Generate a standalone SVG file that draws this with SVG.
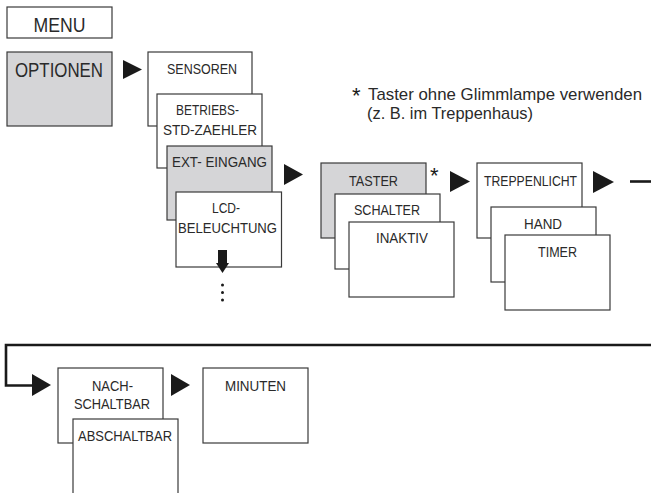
<svg xmlns="http://www.w3.org/2000/svg" width="651" height="493" viewBox="0 0 651 493">
<style>
.box{fill:#fff;stroke:#3a3a3a;stroke-width:1.2}
.grey{fill:#d5d5d7}
.t{font-family:"Liberation Sans",Arial,sans-serif;font-size:15.5px;fill:#2a2a2a;text-anchor:middle}
.big{font-size:21px}
.note{font-family:"Liberation Sans",Arial,sans-serif;font-size:17px;fill:#2a2a2a}
.star{font-family:"Liberation Sans",Arial,sans-serif;font-size:22px;fill:#1a1a1a}
.arr{fill:#1a1a1a}
.ln{fill:none;stroke:#1a1a1a;stroke-width:2.6}
</style>
<rect width="651" height="493" fill="#fff"/>
<g id="menu"><rect class="box" x="7" y="7" width="105" height="31"/><text class="t big" x="59.5" y="32" textLength="52" lengthAdjust="spacingAndGlyphs">MENU</text></g>
<g id="optionen"><rect class="box grey" x="7" y="52" width="105" height="74"/><text class="t big" x="59" y="77" textLength="88" lengthAdjust="spacingAndGlyphs">OPTIONEN</text></g>
<g id="sensoren"><rect class="box" x="148" y="52" width="104" height="74"/><text class="t" x="202" y="73.5" textLength="70" lengthAdjust="spacingAndGlyphs">SENSOREN</text></g>
<g id="betriebs"><rect class="box" x="157" y="94" width="105" height="74"/><text class="t" x="207.5" y="115" textLength="63" lengthAdjust="spacingAndGlyphs">BETRIEBS-</text><text class="t" x="210" y="135" textLength="94" lengthAdjust="spacingAndGlyphs">STD-ZAEHLER</text></g>
<g id="ext"><rect class="box grey" x="167" y="146" width="105" height="74"/><text class="t" x="219.5" y="167" textLength="95" lengthAdjust="spacingAndGlyphs">EXT- EINGANG</text></g>
<g id="lcd"><rect class="box" x="176" y="192" width="105.5" height="75"/><text class="t" x="226" y="213" textLength="28" lengthAdjust="spacingAndGlyphs">LCD-</text><text class="t" x="227.5" y="233" textLength="99" lengthAdjust="spacingAndGlyphs">BELEUCHTUNG</text>
<rect class="arr" x="218" y="250" width="9" height="14"/><polygon class="arr" points="216,263 229,263 222.5,273"/>
<circle class="arr" cx="222.5" cy="285" r="1.5"/><circle class="arr" cx="222.5" cy="292.5" r="1.5"/><circle class="arr" cx="222.5" cy="300" r="1.5"/></g>
<g id="taster"><rect class="box grey" x="321" y="163" width="105" height="75"/><text class="t" x="373.5" y="186" textLength="49" lengthAdjust="spacingAndGlyphs">TASTER</text></g>
<g id="schalter"><rect class="box" x="335" y="194" width="105" height="75"/><text class="t" x="387" y="215" textLength="66" lengthAdjust="spacingAndGlyphs">SCHALTER</text></g>
<g id="inaktiv"><rect class="box" x="349" y="222" width="105" height="75"/><text class="t" x="402" y="243" textLength="52" lengthAdjust="spacingAndGlyphs">INAKTIV</text></g>
<g id="treppenlicht"><rect class="box" x="477" y="163" width="105" height="75"/><text class="t" x="530.5" y="186" textLength="93" lengthAdjust="spacingAndGlyphs">TREPPENLICHT</text></g>
<g id="hand"><rect class="box" x="491" y="207" width="105" height="75"/><text class="t" x="543" y="229" textLength="38" lengthAdjust="spacingAndGlyphs">HAND</text></g>
<g id="timer"><rect class="box" x="505" y="235" width="105" height="75"/><text class="t" x="557.5" y="257" textLength="39" lengthAdjust="spacingAndGlyphs">TIMER</text></g>
<g id="nachschaltbar"><rect class="box" x="58" y="368" width="105" height="75"/><text class="t" x="112.5" y="391" textLength="41" lengthAdjust="spacingAndGlyphs">NACH-</text><text class="t" x="112" y="409" textLength="76" lengthAdjust="spacingAndGlyphs">SCHALTBAR</text></g>
<g id="abschaltbar"><rect class="box" x="73" y="419" width="105" height="80"/><text class="t" x="125" y="441" textLength="94" lengthAdjust="spacingAndGlyphs">ABSCHALTBAR</text></g>
<g id="minuten"><rect class="box" x="203" y="368" width="105" height="75"/><text class="t" x="255.5" y="391" textLength="61" lengthAdjust="spacingAndGlyphs">MINUTEN</text></g>
<g id="note"><text class="star" x="352" y="103">*</text><text class="note" x="368" y="99.5" textLength="274" lengthAdjust="spacingAndGlyphs">Taster ohne Glimmlampe verwenden</text><text class="note" x="367" y="118.5" textLength="166" lengthAdjust="spacingAndGlyphs">(z. B. im Treppenhaus)</text></g>
<g id="star"><text class="star" x="430" y="183">*</text></g>
<g id="connectors">
<polygon class="arr" points="123,60 142,69.5 123,79"/>
<polygon class="arr" points="284,164 303,174.5 284,185"/>
<polygon class="arr" points="450,171 470,181.5 450,192"/>
<polygon class="arr" points="593,171 614,182 593,193"/>
<line class="ln" x1="630" y1="181.5" x2="652" y2="181.5"/>
<polyline class="ln" points="652,345 6,345 6,385.5 34,385.5"/>
<polygon class="arr" points="32,374 51,385 32,396"/>
<polygon class="arr" points="171,374 190,385 171,396"/>
</g>
</svg>
